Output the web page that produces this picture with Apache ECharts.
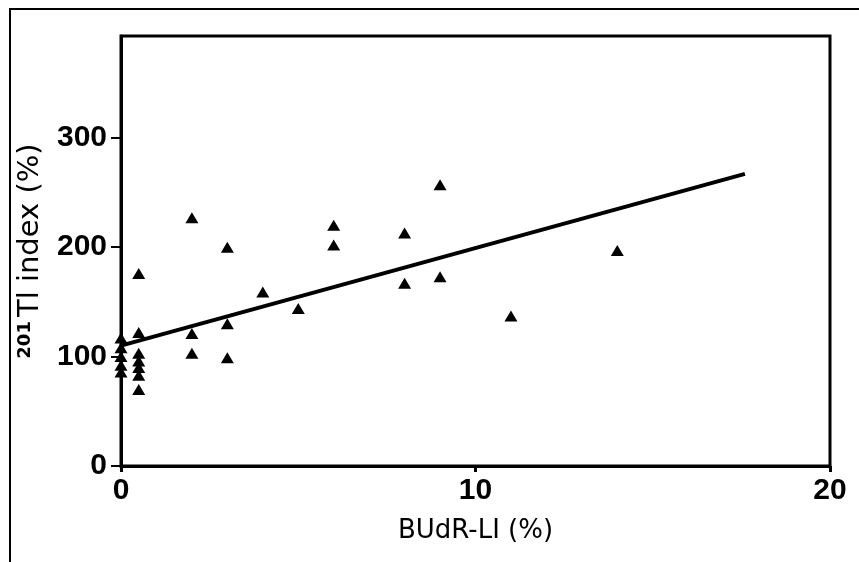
<!DOCTYPE html>
<html>
<head>
<meta charset="utf-8">
<script src="https://cdn.jsdelivr.net/npm/echarts@6/dist/echarts.min.js"></script>
<style>
html,body{margin:0;padding:0;background:#fff;}
#c{width:859px;height:562px;}
</style>
</head>
<body>
<div id="c"></div>
<script>
// BUdR-LI (%) values
var xVals = [0, 0, 0, 0, 0,
             0.5, 0.5, 0.5, 0.5, 0.5, 0.5, 0.5,
             2, 2, 2,
             3, 3, 3,
             4, 5, 6, 6, 8, 8, 9, 9, 11, 14];
// 201Tl index (%) values
var yVals = [117, 108, 100, 92, 86,
             176, 122, 103, 96, 90, 83, 70,
             227, 121, 103,
             200, 130, 99,
             159, 144, 220, 202, 213, 167, 257, 173, 137, 197];
// regression line end points
var lineX = [0, 17.6];
var lineY = [110, 267];
var xTicks = [0, 10, 20];
var yTicks = [0, 100, 200, 300];

var pts = xVals.map(function(x, i){ return [x, yVals[i]]; });
var linePts = lineX.map(function(x, i){ return [x, lineY[i]]; });

var tickFont = {fontFamily: '"Liberation Sans Narrow","Liberation Sans",sans-serif', fontWeight: 'bold', fontSize: 30, color: '#000'};

var chart = echarts.init(document.getElementById('c'), null, {renderer: 'canvas'});
chart.setOption({
  animation: false,
  backgroundColor: '#fff',
  grid: {left: 121, top: 36, right: 29, bottom: 96, show: true, borderColor: '#000', borderWidth: 3, backgroundColor: 'transparent'},
  graphic: [{
    type: 'polyline',
    shape: {points: [[10, 562], [10, 9], [859, 9]]},
    style: {stroke: '#000', lineWidth: 2, fill: null}
  }],
  xAxis: {
    type: 'value', min: 0, max: 20, interval: 10,
    name: 'BUdR-LI (%)', nameLocation: 'middle', nameGap: 52,
    nameTextStyle: {fontFamily: '"DejaVu Sans",sans-serif', fontSize: 26, color: '#000'},
    axisLine: {show: true, lineStyle: {color: '#000', width: 3}},
    axisTick: {show: true, inside: false, length: 6, lineStyle: {color: '#000', width: 3}},
    axisLabel: Object.assign({margin: 10}, tickFont),
    splitLine: {show: false}
  },
  yAxis: {
    type: 'value', min: 0, max: 393,
    name: '{sup|201}Tl index (%)', nameLocation: 'middle', nameGap: 76, nameRotate: 90,
    nameTextStyle: {fontFamily: '"DejaVu Sans",sans-serif', fontSize: 29, color: '#000',
      rich: {sup: {fontFamily: '"DejaVu Sans",sans-serif', fontSize: 18, fontWeight: 'bold', verticalAlign: 'top', padding: [0, 4, 10, 0], color: '#000'}}},
    axisLine: {show: true, lineStyle: {color: '#000', width: 3}},
    axisTick: {show: true, inside: false, length: 10, customValues: yTicks, lineStyle: {color: '#000', width: 2}},
    axisLabel: Object.assign({margin: 14, customValues: yTicks}, tickFont),
    splitLine: {show: false}
  },
  series: [{
    type: 'scatter', data: pts, symbol: 'triangle', symbolSize: [13, 11],
    itemStyle: {color: '#000', opacity: 1}
  }, {
    type: 'line', data: linePts, symbol: 'none',
    lineStyle: {color: '#000', width: 4}
  }]
});
</script>
</body>
</html>
